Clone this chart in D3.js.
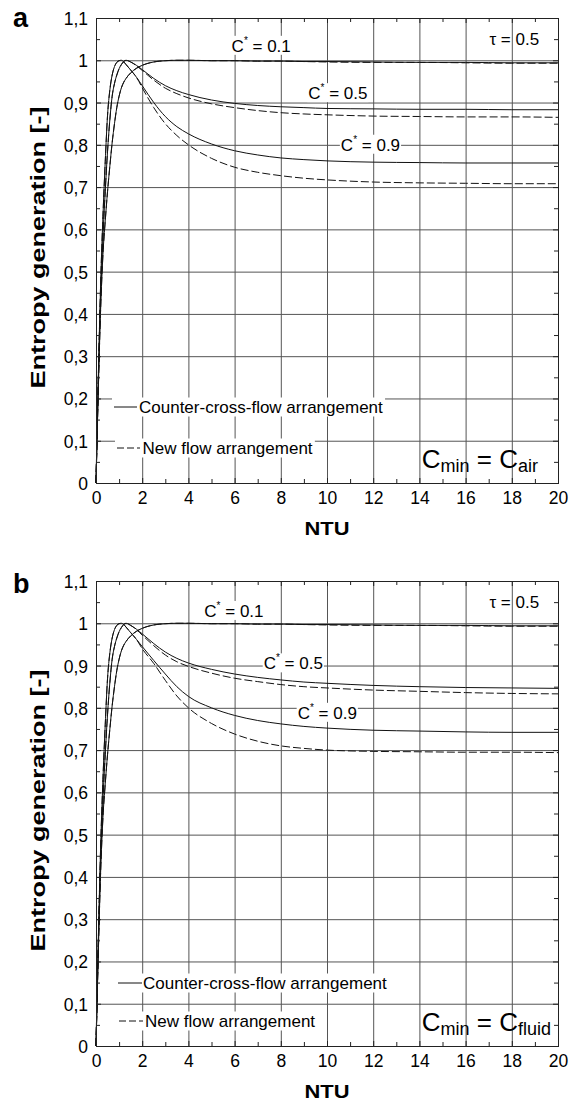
<!DOCTYPE html>
<html>
<head>
<meta charset="utf-8">
<script src="https://cdn.jsdelivr.net/npm/d3@7"></script>
<style>
  body { margin: 0; background: #fff; }
  svg { display: block; }
</style>
</head>
<body>
<div id="chart"></div>
<script>
// NTU sample points (shared by every curve)
var ntu = [0, 0.05, 0.1, 0.2, 0.3, 0.4, 0.5, 0.6, 0.7, 0.8, 0.9, 1.0, 1.1, 1.2, 1.3, 1.5, 1.75,
           2, 2.5, 3, 3.5, 4, 5, 6, 7, 8, 9, 10, 12, 14, 16, 18, 20];

// panel a : Cmin = Cair
var aCounter01 = [0, 0.11, 0.22, 0.41, 0.54, 0.62, 0.69, 0.75, 0.805, 0.85, 0.888, 0.915, 0.935, 0.948, 0.957, 0.97, 0.981,
                  0.988, 0.996, 0.999, 1.0, 1.0, 0.999, 0.999, 0.998, 0.998, 0.997, 0.997, 0.996, 0.995, 0.995, 0.994, 0.994];
var aNew01     = [0, 0.11, 0.22, 0.41, 0.54, 0.62, 0.69, 0.75, 0.805, 0.85, 0.888, 0.915, 0.935, 0.948, 0.957, 0.97, 0.981,
                  0.988, 0.996, 0.999, 1.0, 1.0, 0.999, 0.999, 0.998, 0.998, 0.997, 0.996, 0.995, 0.995, 0.994, 0.993, 0.993];
var aCounter05 = [0, 0.12, 0.24, 0.44, 0.58, 0.69, 0.785, 0.86, 0.915, 0.945, 0.965, 0.98, 0.99, 0.997, 1.0, 0.996, 0.988,
                  0.978, 0.957, 0.94, 0.928, 0.919, 0.906, 0.898, 0.893, 0.89, 0.888, 0.886, 0.885, 0.884, 0.884, 0.883, 0.883];
var aNew05     = [0, 0.12, 0.24, 0.44, 0.58, 0.69, 0.785, 0.86, 0.915, 0.945, 0.965, 0.98, 0.99, 0.997, 1.0, 0.996, 0.987,
                  0.976, 0.953, 0.934, 0.921, 0.911, 0.897, 0.888, 0.881, 0.876, 0.873, 0.871, 0.868, 0.867, 0.866, 0.866, 0.865];
var aCounter09 = [0, 0.13, 0.25, 0.47, 0.63, 0.76, 0.87, 0.93, 0.965, 0.985, 0.995, 0.999, 1.0, 0.996, 0.99, 0.977, 0.96,
                  0.94, 0.9, 0.867, 0.843, 0.826, 0.802, 0.786, 0.776, 0.769, 0.765, 0.762, 0.759, 0.758, 0.757, 0.757, 0.757];
var aNew09     = [0, 0.13, 0.25, 0.47, 0.63, 0.76, 0.87, 0.93, 0.965, 0.985, 0.995, 0.999, 1.0, 0.996, 0.99, 0.977, 0.96,
                  0.935, 0.888, 0.85, 0.822, 0.8, 0.768, 0.747, 0.735, 0.727, 0.721, 0.717, 0.712, 0.71, 0.709, 0.708, 0.708];

// panel b : Cmin = Cfluid
var bCounter01 = [0, 0.11, 0.22, 0.41, 0.54, 0.62, 0.69, 0.75, 0.805, 0.85, 0.888, 0.915, 0.935, 0.948, 0.957, 0.97, 0.981,
                  0.988, 0.996, 0.999, 1.0, 1.0, 0.999, 0.999, 0.998, 0.998, 0.997, 0.997, 0.996, 0.995, 0.995, 0.994, 0.994];
var bNew01     = [0, 0.11, 0.22, 0.41, 0.54, 0.62, 0.69, 0.75, 0.805, 0.85, 0.888, 0.915, 0.935, 0.948, 0.957, 0.97, 0.981,
                  0.988, 0.996, 0.999, 1.0, 1.0, 0.999, 0.999, 0.998, 0.998, 0.997, 0.996, 0.995, 0.995, 0.994, 0.993, 0.993];
var bCounter05 = [0, 0.12, 0.24, 0.44, 0.58, 0.69, 0.785, 0.86, 0.915, 0.945, 0.965, 0.98, 0.99, 0.997, 1.0, 0.995, 0.986,
                  0.975, 0.952, 0.932, 0.917, 0.906, 0.891, 0.88, 0.872, 0.866, 0.861, 0.858, 0.853, 0.85, 0.848, 0.847, 0.846];
var bNew05     = [0, 0.12, 0.24, 0.44, 0.58, 0.69, 0.785, 0.86, 0.915, 0.945, 0.965, 0.98, 0.99, 0.997, 1.0, 0.995, 0.985,
                  0.972, 0.947, 0.925, 0.909, 0.898, 0.882, 0.87, 0.862, 0.855, 0.85, 0.847, 0.842, 0.839, 0.836, 0.834, 0.833];
var bCounter09 = [0, 0.13, 0.25, 0.47, 0.63, 0.76, 0.87, 0.93, 0.965, 0.985, 0.995, 0.999, 1.0, 0.997, 0.991, 0.978, 0.962,
                  0.945, 0.912, 0.88, 0.85, 0.827, 0.8, 0.782, 0.77, 0.762, 0.756, 0.752, 0.747, 0.745, 0.743, 0.742, 0.742];
var bNew09     = [0, 0.13, 0.25, 0.47, 0.63, 0.76, 0.87, 0.93, 0.965, 0.985, 0.995, 0.999, 1.0, 0.997, 0.991, 0.978, 0.962,
                  0.94, 0.905, 0.865, 0.828, 0.8, 0.763, 0.738, 0.721, 0.71, 0.704, 0.7, 0.697, 0.696, 0.695, 0.695, 0.694];

// ticks
var xTicks = [0, 2, 4, 6, 8, 10, 12, 14, 16, 18, 20];
var xMinor = [1, 3, 5, 7, 9, 11, 13, 15, 17, 19];
var yTicks = [0, 0.1, 0.2, 0.3, 0.4, 0.5, 0.6, 0.7, 0.8, 0.9, 1.0, 1.1];
var yMinor = [0.05, 0.15, 0.25, 0.35, 0.45, 0.55, 0.65, 0.75, 0.85, 0.95, 1.05];

var cStarLabels = ['0.1', '0.5', '0.9'];
var legendNames = ['Counter-cross-flow arrangement', 'New flow arrangement'];

// size globals
var width = 576;
var height = 1100;
var plotLeft = 96;
var innerWidth = 462;
var innerHeight = 465;
var gridColor = '#555';
var fontFamily = '"Liberation Sans", Arial, sans-serif';

var svg = d3.select('#chart')
    .append('svg')
    .attr('width', width)
    .attr('height', height)
    .attr('font-family', fontFamily);

var commaLocale = d3.formatLocale({ decimal: ',', thousands: '.', grouping: [3], currency: ['', ''] });
var yFormat = commaLocale.format('.1~f');

function drawPanel(cfg) {
    var x = d3.scaleLinear().domain([0, 20]).range([0, innerWidth]);
    var y = d3.scaleLinear().domain([0, 1.1]).range([innerHeight, 0]);

    var g = svg.append('g')
        .attr('transform', 'translate(' + plotLeft + ',' + cfg.top + ')');

    // grid
    var gx = g.append('g')
        .call(d3.axisBottom(x).tickValues(xTicks.slice(1, -1)).tickSize(innerHeight).tickFormat(''));
    var gy = g.append('g')
        .call(d3.axisRight(y).tickValues(yTicks.slice(1, -1)).tickSize(innerWidth).tickFormat(''));
    [gx, gy].forEach(function(a) {
        a.select('.domain').remove();
        a.selectAll('text').remove();
        a.selectAll('line').attr('stroke', gridColor);
    });

    // curves
    var line = d3.line()
        .x(function(d, i) { return x(ntu[i]); })
        .y(function(d) { return y(d); })
        .curve(d3.curveMonotoneX);

    cfg.series.forEach(function(s) {
        g.append('path')
            .datum(s.values)
            .attr('d', line)
            .attr('fill', 'none')
            .attr('stroke', '#111')
            .attr('stroke-width', 1)
            .attr('stroke-dasharray', s.dashed ? '8,3' : null);
    });

    // C* labels with white boxes
    cfg.cLabels.forEach(function(l, i) {
        var lg = g.append('g');
        var t = lg.append('text')
            .attr('x', x(l.x))
            .attr('y', y(l.y))
            .attr('font-size', 17)
            .attr('fill', '#000');
        t.append('tspan').text('C');
        t.append('tspan').text('*').attr('font-size', 10).attr('dy', -8);
        t.append('tspan').text(' = ' + cStarLabels[i]).attr('dy', 8);
        var bb = t.node().getBBox();
        lg.insert('rect', 'text')
            .attr('x', bb.x - 1).attr('y', bb.y + 1)
            .attr('width', bb.width + 2).attr('height', bb.height - 2)
            .attr('fill', '#fff');
    });

    // tau
    g.append('text')
        .attr('x', x(17.03))
        .attr('y', y(1.035))
        .attr('font-size', 17)
        .attr('fill', '#000')
        .text('\u03c4 = 0.5');

    // Cmin = C..
    var ct = g.append('text')
        .attr('x', x(14.1))
        .attr('y', innerHeight - 15)
        .attr('font-size', 26)
        .attr('fill', '#000');
    ct.append('tspan').text('C');
    ct.append('tspan').text('min').attr('font-size', 18).attr('dy', 4);
    ct.append('tspan').text(' = C').attr('dy', -4);
    ct.append('tspan').text(cfg.cminSub).attr('font-size', 18).attr('dy', 4);

    // legend
    cfg.legend.forEach(function(l, i) {
        var lg = g.append('g');
        lg.append('line')
            .attr('x1', l.x1).attr('x2', l.x2)
            .attr('y1', l.ly).attr('y2', l.ly)
            .attr('stroke', '#111')
            .attr('stroke-dasharray', i === 1 ? '7,3' : null);
        lg.append('text')
            .attr('x', l.tx)
            .attr('y', l.ty)
            .attr('font-size', 17)
            .attr('fill', '#000')
            .text(legendNames[i]);
        var bb = lg.node().getBBox();
        lg.insert('rect', 'line')
            .attr('x', bb.x - 2).attr('y', bb.y)
            .attr('width', bb.width + 4).attr('height', bb.height)
            .attr('fill', '#fff');
    });

    // ticks (inside)
    function styleAxis(a) {
        a.select('.domain').remove();
        a.attr('font-family', fontFamily).attr('font-size', 17.5);
        a.selectAll('line').attr('stroke', '#222');
        a.selectAll('text').attr('fill', '#000');
    }
    function tickOnly(a) {
        styleAxis(a);
        a.selectAll('text').remove();
    }
    g.append('g').attr('transform', 'translate(0,' + innerHeight + ')')
        .call(d3.axisBottom(x).tickValues(xTicks).tickSize(-5).tickPadding(8.5).tickFormat(d3.format('d')))
        .call(styleAxis);
    g.append('g').attr('transform', 'translate(0,' + innerHeight + ')')
        .call(d3.axisBottom(x).tickValues(xMinor).tickSize(-4))
        .call(tickOnly);
    g.append('g')
        .call(d3.axisTop(x).tickValues(xTicks).tickSize(-5))
        .call(tickOnly);
    g.append('g')
        .call(d3.axisTop(x).tickValues(xMinor).tickSize(-4))
        .call(tickOnly);
    var left = g.append('g')
        .call(d3.axisLeft(y).tickValues(yTicks).tickSize(-5).tickPadding(8).tickFormat(yFormat))
        .call(styleAxis);
    left.selectAll('text').attr('dy', '0.37em');
    g.append('g')
        .call(d3.axisLeft(y).tickValues(yMinor).tickSize(-4))
        .call(tickOnly);
    g.append('g').attr('transform', 'translate(' + innerWidth + ',0)')
        .call(d3.axisRight(y).tickValues(yTicks).tickSize(-5))
        .call(tickOnly);
    g.append('g').attr('transform', 'translate(' + innerWidth + ',0)')
        .call(d3.axisRight(y).tickValues(yMinor).tickSize(-4))
        .call(tickOnly);

    // frame
    g.append('rect')
        .attr('x', 0.5).attr('y', 0.5)
        .attr('width', innerWidth).attr('height', innerHeight)
        .attr('fill', 'none')
        .attr('stroke', '#222');

    // axis titles
    g.append('text')
        .attr('transform', 'translate(' + (45 - plotLeft) + ',' + (innerHeight / 2 - 3) + ') rotate(-90)')
        .attr('text-anchor', 'middle')
        .attr('textLength', 282)
        .attr('lengthAdjust', 'spacingAndGlyphs')
        .attr('font-size', 21)
        .attr('font-weight', 'bold')
        .attr('fill', '#000')
        .text('Entropy generation [-]');

    g.append('text')
        .attr('x', innerWidth / 2)
        .attr('y', innerHeight + 52)
        .attr('text-anchor', 'middle')
        .attr('textLength', 45)
        .attr('lengthAdjust', 'spacingAndGlyphs')
        .attr('font-size', 19)
        .attr('font-weight', 'bold')
        .attr('fill', '#000')
        .text('NTU');

    // panel letter
    g.append('text')
        .attr('x', 13 - plotLeft)
        .attr('y', cfg.letterY)
        .attr('font-size', 27)
        .attr('font-weight', 'bold')
        .attr('fill', '#000')
        .text(cfg.letter);
}

drawPanel({
    top: 18,
    letter: 'a',
    letterY: 9,
    cminSub: 'air',
    series: [
        { values: aCounter01 }, { values: aNew01, dashed: true },
        { values: aCounter05 }, { values: aNew05, dashed: true },
        { values: aCounter09 }, { values: aNew09, dashed: true }
    ],
    cLabels: [ { x: 5.87, y: 1.02 }, { x: 9.19, y: 0.908 }, { x: 10.6, y: 0.786 } ],
    legend: [
        { x1: 18, x2: 41, ly: 389, tx: 43, ty: 394.5 },
        { x1: 21, x2: 44, ly: 430, tx: 46.5, ty: 435.5 }
    ]
});

drawPanel({
    top: 581,
    letter: 'b',
    letterY: 12,
    cminSub: 'fluid',
    series: [
        { values: bCounter01 }, { values: bNew01, dashed: true },
        { values: bCounter05 }, { values: bNew05, dashed: true },
        { values: bCounter09 }, { values: bNew09, dashed: true }
    ],
    cLabels: [ { x: 4.69, y: 1.015 }, { x: 7.26, y: 0.891 }, { x: 8.73, y: 0.774 } ],
    legend: [
        { x1: 22, x2: 46, ly: 402, tx: 47, ty: 407.5 },
        { x1: 23, x2: 47, ly: 440, tx: 49, ty: 445.5 }
    ]
});
</script>
</body>
</html>
